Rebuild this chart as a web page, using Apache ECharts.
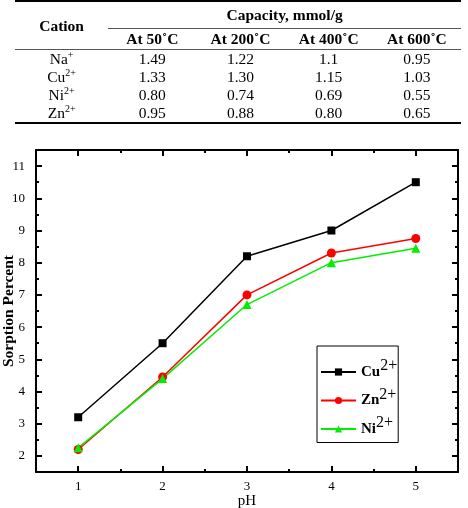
<!DOCTYPE html>
<html>
<head>
<meta charset="utf-8">
<script src="https://cdn.jsdelivr.net/npm/echarts@6/dist/echarts.min.js"></script>
<style>
  body { margin: 0; background: #fff; }
  #wrap { position: relative; width: 468px; height: 508px; }
  #chart { position: absolute; left: 0; top: 0; width: 468px; height: 508px; }
  #tbl { position: absolute; left: 15px; top: 0; width: 446px; border-collapse: collapse;
         font-family: 'Liberation Serif', serif; font-size: 15.5px; color: #000; z-index: 2; }
  #tbl td, #tbl th { padding: 0; text-align: center; line-height: 18px; }
  #tbl th { font-weight: bold; }
  #tbl sup { font-size: 10px; line-height: 0; vertical-align: 6px; }
</style>
</head>
<body>
<div id="wrap">
  <div id="chart"></div>
  <table id="tbl"></table>
</div>
<script>
// table data
var tableTemps = ['At 50˚C', 'At 200˚C', 'At 400˚C', 'At 600˚C'];
var tableCations = [['Na', '+'], ['Cu', '2+'], ['Ni', '2+'], ['Zn', '2+']];
var tableCapacity = [
  ['1.49', '1.22', '1.1', '0.95'],
  ['1.33', '1.30', '1.15', '1.03'],
  ['0.80', '0.74', '0.69', '0.55'],
  ['0.95', '0.88', '0.80', '0.65']
];

// chart data
var pH = [1, 2, 3, 4, 5];
var cuValues = [3.2, 5.5, 8.2, 9.0, 10.5];
var znValues = [2.2, 4.45, 7.0, 8.3, 8.75];
var niValues = [2.25, 4.4, 6.7, 8.0, 8.45];
var xTicks = [1, 2, 3, 4, 5];
var xMinorTicks = [1.5, 2.5, 3.5, 4.5];
var yTicks = [2, 3, 4, 5, 6, 7, 8, 9, 10, 11];
var yMinorTicks = [2.5, 3.5, 4.5, 5.5, 6.5, 7.5, 8.5, 9.5, 10.5, 11.5];

// build the table
var html = '<tr style="border-top:2px solid #000">' +
  '<th rowspan="2" style="width:93px">Cation</th>' +
  '<th colspan="4" style="height:26px;border-bottom:1px solid #555">Capacity, mmol/g</th></tr>';
html += '<tr style="border-bottom:1px solid #555">';
tableTemps.forEach(function (t) { html += '<th style="height:20px;width:88px">' + t + '</th>'; });
html += '</tr>';
tableCations.forEach(function (c, i) {
  var last = i === tableCations.length - 1;
  html += '<tr' + (last ? ' style="border-bottom:2px solid #000"' : '') + '>';
  html += '<td style="height:18px">' + c[0] + '<sup>' + c[1] + '</sup></td>';
  tableCapacity[i].forEach(function (v) { html += '<td>' + v + '</td>'; });
  html += '</tr>';
});
document.getElementById('tbl').innerHTML = html;

function pairs(ys) {
  return pH.map(function (x, i) { return [x, ys[i]]; });
}

var font = 'Liberation Serif';
var axisLineStyle = { color: '#000', width: 2 };

function xAxisDef(pos, ticks, len, labels, showLine) {
  return {
    type: 'value', position: pos, min: 0.5, max: 5.5, interval: 0.5,
    axisLine: { show: showLine, lineStyle: axisLineStyle },
    axisTick: { show: true, inside: true, length: len, customValues: ticks,
                lineStyle: { color: '#000', width: 2 } },
    axisLabel: labels ? { show: true, customValues: ticks, margin: 8,
                          color: '#000', fontFamily: font, fontSize: 13 } : { show: false },
    splitLine: { show: false },
    name: labels ? 'pH' : '', nameLocation: 'middle', nameGap: 22, nameMoveOverlap: false,
    nameTextStyle: { color: '#000', fontFamily: font, fontSize: 15 }
  };
}

function yAxisDef(pos, ticks, len, labels, showLine) {
  return {
    type: 'value', position: pos, min: 1.5, max: 11.5, interval: 0.5,
    axisLine: { show: showLine, lineStyle: axisLineStyle },
    axisTick: { show: true, inside: true, length: len, customValues: ticks,
                lineStyle: { color: '#000', width: 2 } },
    axisLabel: labels ? { show: true, customValues: ticks, margin: 11,
                          color: '#000', fontFamily: font, fontSize: 13 } : { show: false },
    splitLine: { show: false },
    name: labels ? 'Sorption Percent' : '', nameLocation: 'middle', nameGap: 19, nameMoveOverlap: false,
    nameTextStyle: { color: '#000', fontFamily: font, fontSize: 15.5, fontWeight: 'bold' }
  };
}

var chart = echarts.init(document.getElementById('chart'), null, { renderer: 'canvas' });

var option = {
  animation: false,
  backgroundColor: '#fff',
  grid: { left: 36, top: 150, right: 10, bottom: 36, outerBoundsMode: 'none', containLabel: false },
  xAxis: [
    xAxisDef('bottom', xTicks, 6, true, true),
    xAxisDef('bottom', xMinorTicks, 3, false, false),
    xAxisDef('top', xTicks, 6, false, true),
    xAxisDef('top', xMinorTicks, 3, false, false)
  ],
  yAxis: [
    yAxisDef('left', yTicks, 6, true, true),
    yAxisDef('left', yMinorTicks, 3, false, false),
    yAxisDef('right', yTicks, 6, false, true),
    yAxisDef('right', yMinorTicks, 3, false, false)
  ],
  legend: {
    orient: 'vertical',
    left: 317, top: 346,
    padding: [12, 1, 6, 3],
    itemGap: 7,
    itemWidth: 35, itemHeight: 9,
    borderColor: '#000', borderWidth: 1,
    data: ['Cu', 'Zn', 'Ni'],
    formatter: function (name) { return '{n|' + name + '}{s|2+}'; },
    textStyle: {
      rich: {
        n: { fontFamily: font, fontSize: 15, fontWeight: 'bold', color: '#000', verticalAlign: 'middle', lineHeight: 28 },
        s: { fontFamily: font, fontSize: 16, color: '#000', verticalAlign: 'top', lineHeight: 16 }
      }
    }
  },
  series: [
    {
      name: 'Cu', type: 'line', data: pairs(cuValues),
      symbol: 'rect', symbolSize: 8,
      lineStyle: { color: '#000', width: 1.5 }, itemStyle: { color: '#000' }
    },
    {
      name: 'Zn', type: 'line', data: pairs(znValues),
      symbol: 'circle', symbolSize: 9,
      lineStyle: { color: '#ff0000', width: 1.5 }, itemStyle: { color: '#ff0000' }
    },
    {
      name: 'Ni', type: 'line', data: pairs(niValues),
      symbol: 'triangle', symbolSize: 9,
      lineStyle: { color: '#00ee00', width: 1.5 }, itemStyle: { color: '#00ee00' }
    }
  ]
};

chart.setOption(option);
</script>
</body>
</html>
